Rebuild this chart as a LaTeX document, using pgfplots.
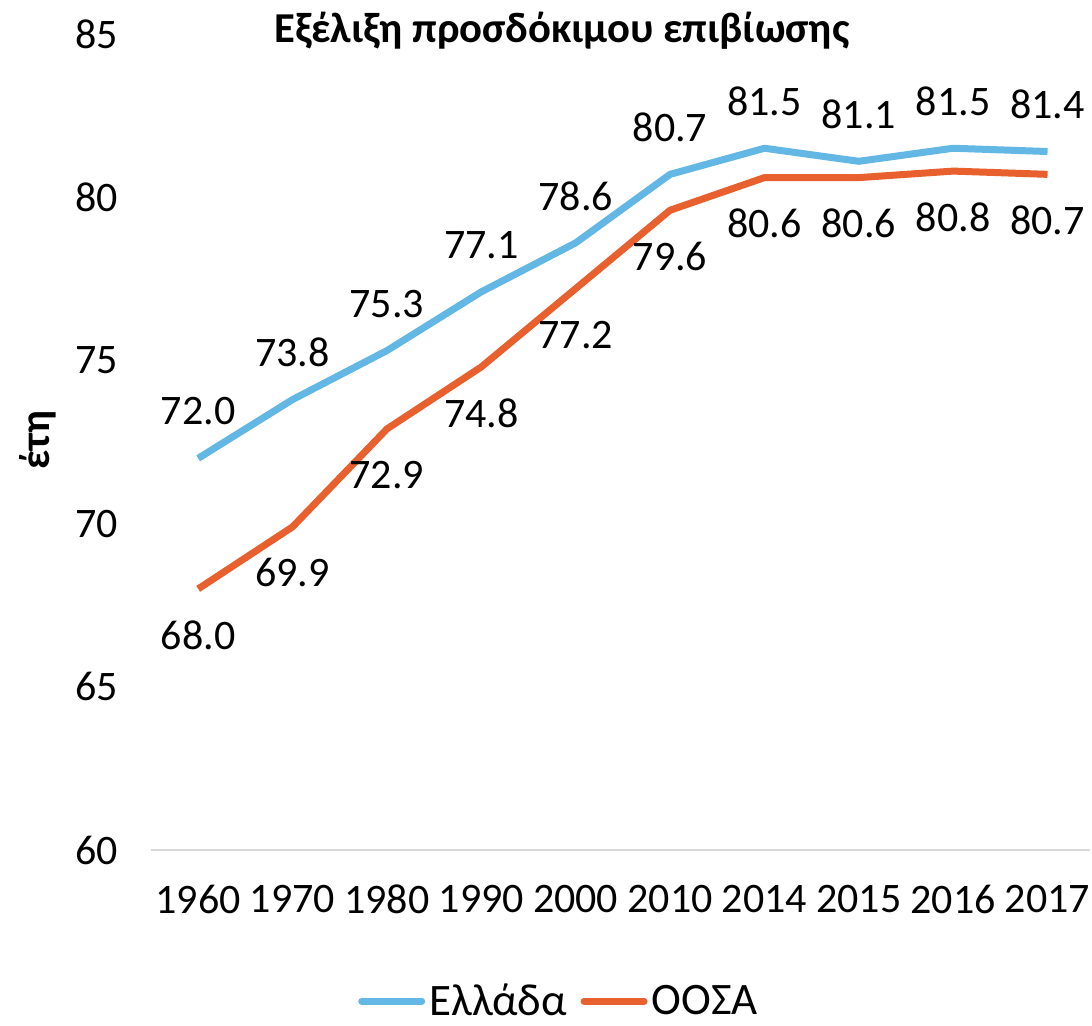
\documentclass[border=0pt]{standalone}
\usepackage{pgfplots}
\pgfplotsset{compat=1.18}
\usepackage{fontspec}
\setmainfont{Carlito}
\definecolor{grblue}{HTML}{62B7E5}
\definecolor{oecdor}{HTML}{E8602D}
\begin{document}
\begin{tikzpicture}
\useasboundingbox (0,0) rectangle (546pt,512.5pt);
\begin{axis}[
  at={(75.5pt,87.5pt)}, anchor=south west,
  scale only axis, width=469.5pt, height=408pt,
  xmin=-0.5, xmax=9.45, ymin=60, ymax=85,
  xtick={0,...,9},
  xticklabels={1960,1970,1980,1990,2000,2010,2014,2015,2016,2017},
  ytick={60,65,...,85},
  extra y ticks={60}, extra y tick labels={},
  extra y tick style={ymajorgrids=true, major grid style={draw=black!15, line width=1pt}},
  axis line style={draw=none},
  major tick length=0pt,
  /pgf/number format/assume math mode=true,
  tick label style={font=\fontsize{21}{25}\selectfont},
  yticklabel style={xshift=-13pt},
  xticklabel style={yshift=-14pt},
  clip=false,
  legend columns=2,
  legend style={at={(0.4356,-0.1852)}, anchor=center, draw=none, fill=none,
    font=\fontsize{22.5}{26}\selectfont, /tikz/every even column/.append style={column sep=5pt},
    inner sep=0pt},
  legend image code/.code={\draw[#1, line cap=round] (0pt,0pt) -- (30pt,0pt);},
  every axis plot/.append style={line width=3.5pt, line join=round, mark=none},
  nodes near coords={\pgfmathprintnumber[fixed,fixed zerofill,precision=1,assume math mode=true]{\pgfplotspointmeta}},
  every node near coord/.append style={font=\fontsize{21}{25}\selectfont, text=black, anchor=center},
]
\addplot[grblue, every node near coord/.append style={yshift=23.5pt}] coordinates {
(0,72.0) (1,73.8) (2,75.3) (3,77.1) (4,78.6) (5,80.7) (6,81.5) (7,81.1) (8,81.5) (9,81.4)};
\addlegendentry{Ελλάδα}
\addplot[oecdor, every node near coord/.append style={yshift=-23pt}] coordinates {
(0,68.0) (1,69.9) (2,72.9) (3,74.8) (4,77.2) (5,79.6) (6,80.6) (7,80.6) (8,80.8) (9,80.7)};
\addlegendentry{ΟΟΣΑ}
\end{axis}
\node[anchor=base, font=\bfseries\fontsize{21.3}{25}\selectfont] at (281pt,491pt) {Εξέλιξη προσδόκιμου επιβίωσης};
\node[rotate=90, font=\bfseries\fontsize{21}{25}\selectfont] at (19pt,292.5pt) {έτη};
\end{tikzpicture}
\end{document}
